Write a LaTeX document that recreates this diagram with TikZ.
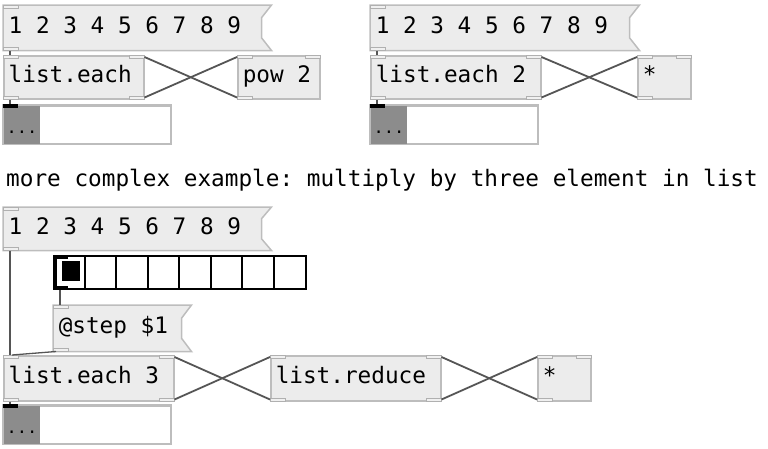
\documentclass[tikz,border=0pt]{standalone}
\usepackage{fontspec}
\usepackage{xcolor}
\usepackage{tikz}
\usetikzlibrary{calc, backgrounds}
\setmonofont{DejaVu Sans Mono}
\definecolor{pdfill}{HTML}{ECECEC}
\definecolor{pdedge}{HTML}{BDBDBD}
\definecolor{pdiolet}{HTML}{B0B0B0}
\definecolor{pdcord}{HTML}{555555}
\definecolor{pdgrey}{HTML}{8C8C8C}
\newcommand{\pdfont}{\ttfamily\fontsize{22.7}{26}\selectfont}

\begin{document}
\begin{tikzpicture}[x=1pt, y=-1pt,
  pdobj/.style={draw=pdedge, fill=pdfill, line width=1.5pt, anchor=north west,
    text width=#1, inner xsep=5pt, inner ysep=0pt, minimum height=43pt,
    text height=16pt, text depth=5pt, font=\pdfont,
    execute at begin node={\spaceskip=0pt\xspaceskip=0pt\relax}},
  pdmsg/.style={pdobj=#1, draw=none, fill=none, minimum height=44pt},
  msgframe/.style={draw=pdedge, fill=pdfill, line width=1.5pt, line join=miter},
  pdlist/.style={draw=pdedge, fill=white, line width=1.5pt, anchor=north west,
    minimum width=167pt, minimum height=38pt, inner sep=0pt},
  iolet/.style={draw=pdiolet, fill=pdfill!80!white, line width=1pt},
  cord/.style={draw=pdcord, line width=1.8pt},
  thincord/.style={draw=pdcord, line width=1.3pt}]

\useasboundingbox (0,0) rectangle (768,448);

% Top left: list.each with pow 2
\node[pdmsg=247pt] (m1) at (3,5) {1 2 3 4 5 6 7 8 9};
\node[pdobj=130pt] (e1) at (3,55) {list.each};
\node[pdobj=72pt] (p1) at (237,55) {pow 2};
\node[pdlist] (d1) at (3,105) {};

% Top right: list.each 2 with *
\node[pdmsg=248pt] (m2) at (370,5) {1 2 3 4 5 6 7 8 9};
\node[pdobj=160pt] (e2) at (370,55) {list.each 2};
\node[pdobj=43pt] (t1) at (637,55) {*};
\node[pdlist] (d2) at (370,105) {};

% Comment
\node[anchor=base west, inner sep=0pt, font=\pdfont] (c1) at (6,186)
  {more complex example: multiply by three element in list};

% Bottom: list.each 3 with list.reduce
\node[pdmsg=247pt, minimum height=42pt] (m3) at (3,207) {1 2 3 4 5 6 7 8 9};
\node[draw=black, fill=white, line width=2pt, anchor=north west, inner sep=0pt,
  minimum width=252pt, minimum height=33pt] (h1) at (53,255) {};
\node[pdmsg=117pt, minimum height=45pt] (s1) at (53,305) {@step \$1};
\node[pdobj=160pt, minimum height=45pt] (e3) at (3,355) {list.each 3};
\node[pdobj=160pt, minimum height=45pt] (r1) at (270,355) {list.reduce};
\node[pdobj=43pt, minimum height=45pt] (t3) at (537,355) {*};
\node[pdlist] (d3) at (3,405) {};

% Message flags
\begin{scope}[on background layer]
\foreach \m in {m1,m2,m3,s1}
  \draw[msgframe] (\m.north west) -- ($(\m.north east)+(10,0)$)
    -- ($(\m.east)+(0,-10)$) -- ($(\m.east)+(0,10)$)
    -- ($(\m.south east)+(10,0)$) -- (\m.south west) -- cycle;
\end{scope}

% Inlets and outlets
\foreach \n in {m1,e1,p1,m2,e2,t1,m3,s1,e3,r1,t3} {
  \draw[iolet] (\n.north west) rectangle ++(15,3);
  \draw[iolet] (\n.south west) rectangle ++(15,-3);
}
\foreach \n in {e1,p1,e2,t1,e3,r1,t3}
  \draw[iolet] (\n.north east) rectangle ++(-15,3);
\foreach \n in {e1,e2,e3,r1}
  \draw[iolet] (\n.south east) rectangle ++(-15,-3);

% List displays
\foreach \d in {d1,d2,d3} {
  \fill[pdgrey] (\d.north west) rectangle ($(\d.south west)+(37,0)$);
  \draw[pdedge, line width=1.5pt] (\d.north west) rectangle (\d.south east);
  \fill[black] ($(\d.north west)+(0,-1)$) rectangle ++(15,4);
  \node[font=\ttfamily\fontsize{17}{20}\selectfont, inner sep=0pt] (\d dots)
    at ($(\d.south west)+(19,-12)$) {...};
}

% Radio cells
\foreach \i in {1,...,7}
  \draw[line width=2pt] ($(h1.north west)+(31.5*\i,0)$) -- ($(h1.south west)+(31.5*\i,0)$);
\fill[black] (h1.north west) rectangle ($(h1.south west)+(4,0)$);
\fill[black] (h1.north west) rectangle ++(15,4);
\fill[black] (h1.south west) rectangle ++(15,-4);
\fill[black] ($(h1.north west)+(9,6)$) rectangle ++(18,20);

% Cords
\draw[thincord] ($(m1.south west)+(7,0)$) -- ($(e1.north west)+(7,0)$);
\draw[thincord] ($(e1.south west)+(7,0)$) -- ($(d1.north west)+(7,-1)$);
\draw[cord] ($(e1.south east)+(0,-2)$) -- ($(p1.north west)+(0,2)$);
\draw[cord] ($(p1.south west)+(0,-2)$) -- ($(e1.north east)+(0,2)$);

\draw[thincord] ($(m2.south west)+(7,0)$) -- ($(e2.north west)+(7,0)$);
\draw[thincord] ($(e2.south west)+(7,0)$) -- ($(d2.north west)+(7,-1)$);
\draw[cord] ($(e2.south east)+(0,-2)$) -- ($(t1.north west)+(0,2)$);
\draw[cord] ($(t1.south west)+(0,-2)$) -- ($(e2.north east)+(0,2)$);

\draw[thincord] ($(m3.south west)+(7,0)$) -- ($(e3.north west)+(7,0)$);
\draw[thincord] ($(h1.south west)+(7,0)$) -- ($(s1.north west)+(7,0)$);
\draw[thincord] ($(s1.south west)+(3,0)$) -- ($(e3.north west)+(9,0)$);
\draw[thincord] ($(e3.south west)+(7,0)$) -- ($(d3.north west)+(7,-1)$);
\draw[cord] ($(e3.south east)+(0,-2)$) -- ($(r1.north west)+(0,2)$);
\draw[cord] ($(r1.south west)+(0,-2)$) -- ($(e3.north east)+(0,2)$);
\draw[cord] ($(r1.south east)+(0,-2)$) -- ($(t3.north west)+(0,2)$);
\draw[cord] ($(t3.south west)+(0,-2)$) -- ($(r1.north east)+(0,2)$);

\end{tikzpicture}
\end{document}
